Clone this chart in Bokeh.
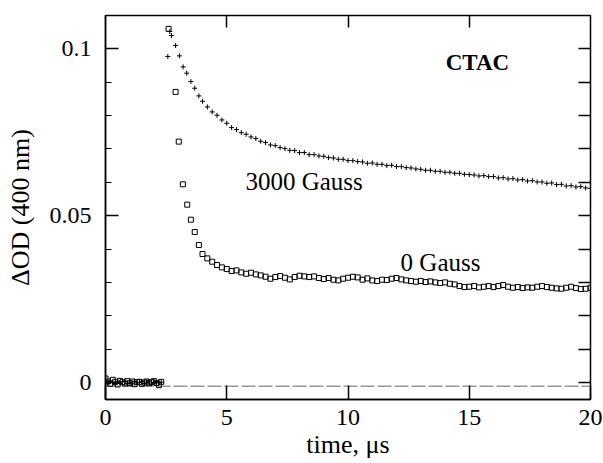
from bokeh.plotting import figure
from bokeh.models import (LinearAxis, FixedTicker, CustomJSTickFormatter, Label, Range1d)
from bokeh.embed import file_html
from bokeh.resources import INLINE

# ---------------- data ----------------
t_pre = [0.0, 0.1, 0.2, 0.3, 0.4, 0.5, 0.6, 0.7, 0.8, 0.9, 1.0, 1.1,
         1.2, 1.3, 1.4, 1.5, 1.6, 1.7, 1.8, 1.9, 2.0, 2.1, 2.2, 2.3]
od0_pre = [0.0012, 0.0003, -0.0004, 0.0008, 0.0002, -0.0006, 0.0005, 0.0001,
           -0.0003, 0.0004, -0.0002, 0.0003, -0.0005, 0.0001, 0.0002, -0.0004,
           0.0000, 0.0003, -0.0002, 0.0001, 0.0004, -0.0001, -0.0008, 0.0002]
od3000_pre = [0.0006, -0.0002, 0.0005, 0.0000, -0.0003, 0.0004, -0.0001, 0.0002,
              0.0003, -0.0004, 0.0001, -0.0002, 0.0004, -0.0001, 0.0000, 0.0003,
              -0.0003, 0.0001, 0.0002, -0.0002, 0.0000, 0.0003, -0.0001, 0.0001]

t0_rise = [2.6, 2.89, 3.02, 3.19, 3.37, 3.52, 3.68, 3.85]
od0_rise = [0.1060, 0.0871, 0.0722, 0.0594, 0.0533, 0.0488, 0.0451, 0.0412]

t3000_rise = [2.57, 2.65, 2.72, 2.89, 3.05, 3.2, 3.35, 3.52, 3.68, 3.85]
od3000_rise = [0.0977, 0.1052, 0.1040, 0.1010, 0.0979, 0.0946, 0.0927, 0.0902, 0.0882, 0.0859]

t_tail = [4.0, 4.2, 4.4, 4.6, 4.8, 5.0, 5.2, 5.4, 5.6, 5.8,
          6.0, 6.2, 6.4, 6.6, 6.8, 7.0, 7.2, 7.4, 7.6, 7.8,
          8.0, 8.2, 8.4, 8.6, 8.8, 9.0, 9.2, 9.4, 9.6, 9.8,
          10.0, 10.2, 10.4, 10.6, 10.8, 11.0, 11.2, 11.4, 11.6, 11.8,
          12.0, 12.2, 12.4, 12.6, 12.8, 13.0, 13.2, 13.4, 13.6, 13.8,
          14.0, 14.2, 14.4, 14.6, 14.8, 15.0, 15.2, 15.4, 15.6, 15.8,
          16.0, 16.2, 16.4, 16.6, 16.8, 17.0, 17.2, 17.4, 17.6, 17.8,
          18.0, 18.2, 18.4, 18.6, 18.8, 19.0, 19.2, 19.4, 19.6, 19.8, 20.0]
od0_tail = [0.0385, 0.0372, 0.0362, 0.0352, 0.0345, 0.0340, 0.0334, 0.0336, 0.0330, 0.0326,
            0.0329, 0.0324, 0.0321, 0.0317, 0.0311, 0.0316, 0.0319, 0.0314, 0.0309, 0.0316,
            0.0320, 0.0318, 0.0316, 0.0318, 0.0313, 0.0310, 0.0313, 0.0308, 0.0306, 0.0311,
            0.0314, 0.0317, 0.0315, 0.0308, 0.0312, 0.0306, 0.0304, 0.0308, 0.0307, 0.0311,
            0.0313, 0.0309, 0.0306, 0.0304, 0.0302, 0.0304, 0.0301, 0.0303, 0.0300, 0.0298,
            0.0300, 0.0296, 0.0294, 0.0289, 0.0286, 0.0287, 0.0289, 0.0285, 0.0287, 0.0289,
            0.0286, 0.0289, 0.0292, 0.0287, 0.0284, 0.0286, 0.0283, 0.0285, 0.0284, 0.0287,
            0.0289, 0.0286, 0.0284, 0.0282, 0.0281, 0.0284, 0.0287, 0.0283, 0.0280, 0.0281, 0.0284]
od3000_tail = [0.0843, 0.0826, 0.0811, 0.0801, 0.0787, 0.0777, 0.0764, 0.0758, 0.0749, 0.0744,
               0.0736, 0.0731, 0.0723, 0.0719, 0.0712, 0.0710, 0.0704, 0.0701, 0.0696, 0.0695,
               0.0689, 0.0689, 0.0683, 0.0683, 0.0679, 0.0678, 0.0674, 0.0673, 0.0669, 0.0669,
               0.0665, 0.0665, 0.0662, 0.0661, 0.0657, 0.0658, 0.0654, 0.0654, 0.0650, 0.0651,
               0.0647, 0.0647, 0.0644, 0.0643, 0.0640, 0.0639, 0.0636, 0.0636, 0.0633, 0.0633,
               0.0630, 0.0630, 0.0627, 0.0627, 0.0624, 0.0623, 0.0622, 0.0619, 0.0620, 0.0617,
               0.0617, 0.0613, 0.0614, 0.0610, 0.0611, 0.0607, 0.0608, 0.0604, 0.0605, 0.0601,
               0.0601, 0.0597, 0.0598, 0.0593, 0.0594, 0.0589, 0.0590, 0.0586, 0.0587, 0.0583, 0.0582]

baseline_t = [0.0, 20.0]
baseline_od = [-0.0011, -0.0011]

x_ticks = [0, 5, 10, 15, 20]
top_ticks = [5, 10, 15]
y_ticks = [0, 0.05, 0.1]
y_minor = [0.01, 0.02, 0.03, 0.04, 0.06, 0.07, 0.08, 0.09]
y_all = [0.0, 0.01, 0.02, 0.03, 0.04, 0.05, 0.06, 0.07, 0.08, 0.09, 0.1]

FONT = "Liberation Serif"

p = figure(width=603, height=463, output_backend="svg", toolbar_location=None,
           x_range=Range1d(0, 20), y_range=Range1d(-0.0051, 0.11),
           min_border_left=105, min_border_right=13, min_border_top=15,
           min_border_bottom=64, x_axis_label="time, μs", y_axis_label="ΔOD (400 nm)")
p.grid.visible = False
p.outline_line_color = "black"
p.outline_line_width = 1.5
p.background_fill_color = "white"
p.border_fill_color = "white"

# baseline
p.line(baseline_t, baseline_od, line_color="#666666", line_width=1, line_dash="14 3")

# data
sq = dict(marker="square", size=5, fill_color=None, line_color="black", line_width=1)
cr = dict(marker="cross", size=5, line_color="black", line_width=1)
p.scatter(t_pre, od3000_pre, **cr)
p.scatter(t_pre, od0_pre, **sq)
p.scatter(t3000_rise, od3000_rise, **cr)
p.scatter(t_tail, od3000_tail, **cr)
p.scatter(t0_rise, od0_rise, **sq)
p.scatter(t_tail, od0_tail, **sq)

fmt = CustomJSTickFormatter(code="return tick.toString();")
blank = CustomJSTickFormatter(code="return '';")

# bottom axis
xa = p.xaxis[0]
xa.ticker = FixedTicker(ticks=x_ticks)
xa.formatter = fmt
xa.major_tick_in = 14
xa.major_tick_out = 0
xa.minor_tick_in = 0
xa.minor_tick_out = 0
xa.major_tick_line_width = 1.5
xa.major_tick_line_color = "black"
xa.axis_line_width = 1.5
xa.axis_line_color = "black"
xa.major_label_standoff = 10
xa.axis_label_standoff = 2
xa.major_label_text_font = FONT
xa.major_label_text_font_size = "24px"
xa.major_label_text_color = "black"
xa.axis_label_text_font = FONT
xa.axis_label_text_font_size = "26px"
xa.axis_label_text_font_style = "normal"
xa.axis_label_text_color = "black"

# left axis
ya = p.yaxis[0]
ya.ticker = FixedTicker(ticks=y_ticks, minor_ticks=y_minor)
ya.formatter = fmt
ya.major_tick_in = 13
ya.major_tick_out = 0
ya.minor_tick_in = 6
ya.minor_tick_out = 0
ya.major_tick_line_width = 1.5
ya.minor_tick_line_width = 1.2
ya.major_tick_line_color = "black"
ya.minor_tick_line_color = "black"
ya.axis_line_width = 1.5
ya.axis_line_color = "black"
ya.major_label_standoff = 14
ya.axis_label_standoff = 12
ya.major_label_text_font = FONT
ya.major_label_text_font_size = "24px"
ya.major_label_text_color = "black"
ya.axis_label_text_font = FONT
ya.axis_label_text_font_size = "26px"
ya.axis_label_text_font_style = "normal"
ya.axis_label_text_color = "black"

# top axis (ticks only)
ta = LinearAxis(ticker=FixedTicker(ticks=top_ticks), formatter=blank,
                major_tick_in=12, major_tick_out=0,
                minor_tick_in=0, minor_tick_out=0, major_tick_line_width=1.5,
                major_tick_line_color="black",
                major_label_text_font_size="10px", major_label_standoff=0,
                axis_line_color=None)
p.add_layout(ta, "above")

# right axis (ticks only)
ra = LinearAxis(ticker=FixedTicker(ticks=y_all), formatter=blank,
                major_tick_in=12, major_tick_out=0,
                minor_tick_in=0, minor_tick_out=0, major_tick_line_width=1.5,
                major_tick_line_color="black",
                major_label_text_font_size="10px", major_label_standoff=0,
                axis_line_color=None)
p.add_layout(ra, "right")

# annotations
for txt, x, y, style, size in [("3000 Gauss", 5.77, 0.0602, "normal", "25px"),
                               ("0 Gauss", 12.17, 0.0359, "normal", "25px"),
                               ("CTAC", 14.03, 0.0958, "bold", "23px")]:
    p.add_layout(Label(x=x, y=y, text=txt, text_font=FONT, text_font_size=size,
                       text_font_style=style, text_baseline="middle", text_align="left",
                       text_color="black"))

open("out.html", "w").write(file_html(p, INLINE))
